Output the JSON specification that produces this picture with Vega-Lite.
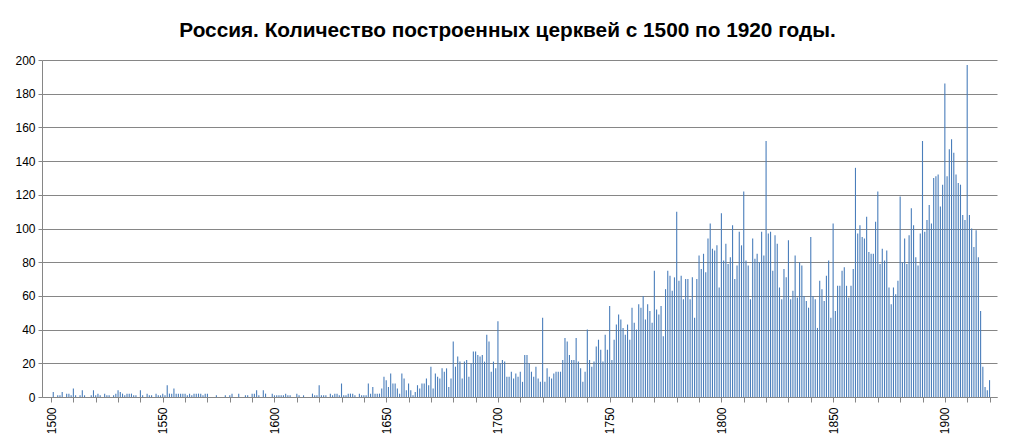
{
  "$schema": "https://vega.github.io/schema/vega-lite/v6.json",
  "width": 955,
  "height": 337,
  "autosize": {"type": "none"},
  "padding": {"left": 42, "top": 60, "right": 17, "bottom": 49},
  "background": "white",
  "title": {"text": "Россия. Количество построенных церквей с 1500 по 1920 годы.", "font": "Liberation Sans", "fontSize": 20.8, "fontWeight": "bold", "color": "#000000", "anchor": "middle", "offset": 12, "dx": -12},
  "data": {"values": [
{"year":1500,"n":0},{"year":1501,"n":3},{"year":1502,"n":0},{"year":1503,"n":1},{"year":1504,"n":1},{"year":1505,"n":3},{"year":1506,"n":0},{"year":1507,"n":2},{"year":1508,"n":2},{"year":1509,"n":1},
{"year":1510,"n":5},{"year":1511,"n":1},{"year":1512,"n":0},{"year":1513,"n":1},{"year":1514,"n":4},{"year":1515,"n":1},{"year":1516,"n":0},{"year":1517,"n":0},{"year":1518,"n":1},{"year":1519,"n":4},
{"year":1520,"n":1},{"year":1521,"n":2},{"year":1522,"n":1},{"year":1523,"n":0},{"year":1524,"n":2},{"year":1525,"n":1},{"year":1526,"n":1},{"year":1527,"n":0},{"year":1528,"n":1},{"year":1529,"n":2},
{"year":1530,"n":4},{"year":1531,"n":3},{"year":1532,"n":2},{"year":1533,"n":1},{"year":1534,"n":2},{"year":1535,"n":2},{"year":1536,"n":2},{"year":1537,"n":1},{"year":1538,"n":1},{"year":1539,"n":0},
{"year":1540,"n":4},{"year":1541,"n":1},{"year":1542,"n":0},{"year":1543,"n":2},{"year":1544,"n":1},{"year":1545,"n":1},{"year":1546,"n":0},{"year":1547,"n":2},{"year":1548,"n":1},{"year":1549,"n":1},
{"year":1550,"n":2},{"year":1551,"n":1},{"year":1552,"n":7},{"year":1553,"n":2},{"year":1554,"n":2},{"year":1555,"n":5},{"year":1556,"n":2},{"year":1557,"n":2},{"year":1558,"n":2},{"year":1559,"n":2},
{"year":1560,"n":2},{"year":1561,"n":1},{"year":1562,"n":2},{"year":1563,"n":1},{"year":1564,"n":2},{"year":1565,"n":2},{"year":1566,"n":2},{"year":1567,"n":2},{"year":1568,"n":1},{"year":1569,"n":2},
{"year":1570,"n":2},{"year":1571,"n":0},{"year":1572,"n":0},{"year":1573,"n":0},{"year":1574,"n":1},{"year":1575,"n":0},{"year":1576,"n":0},{"year":1577,"n":0},{"year":1578,"n":1},{"year":1579,"n":0},
{"year":1580,"n":1},{"year":1581,"n":2},{"year":1582,"n":0},{"year":1583,"n":0},{"year":1584,"n":2},{"year":1585,"n":0},{"year":1586,"n":0},{"year":1587,"n":1},{"year":1588,"n":1},{"year":1589,"n":0},
{"year":1590,"n":2},{"year":1591,"n":2},{"year":1592,"n":4},{"year":1593,"n":1},{"year":1594,"n":0},{"year":1595,"n":4},{"year":1596,"n":2},{"year":1597,"n":0},{"year":1598,"n":0},{"year":1599,"n":2},
{"year":1600,"n":1},{"year":1601,"n":1},{"year":1602,"n":1},{"year":1603,"n":1},{"year":1604,"n":1},{"year":1605,"n":2},{"year":1606,"n":1},{"year":1607,"n":1},{"year":1608,"n":0},{"year":1609,"n":0},
{"year":1610,"n":2},{"year":1611,"n":1},{"year":1612,"n":0},{"year":1613,"n":1},{"year":1614,"n":0},{"year":1615,"n":0},{"year":1616,"n":0},{"year":1617,"n":2},{"year":1618,"n":1},{"year":1619,"n":1},
{"year":1620,"n":7},{"year":1621,"n":1},{"year":1622,"n":1},{"year":1623,"n":1},{"year":1624,"n":0},{"year":1625,"n":2},{"year":1626,"n":1},{"year":1627,"n":2},{"year":1628,"n":2},{"year":1629,"n":1},
{"year":1630,"n":8},{"year":1631,"n":1},{"year":1632,"n":1},{"year":1633,"n":2},{"year":1634,"n":2},{"year":1635,"n":2},{"year":1636,"n":1},{"year":1637,"n":0},{"year":1638,"n":2},{"year":1639,"n":1},
{"year":1640,"n":1},{"year":1641,"n":1},{"year":1642,"n":8},{"year":1643,"n":2},{"year":1644,"n":6},{"year":1645,"n":2},{"year":1646,"n":2},{"year":1647,"n":2},{"year":1648,"n":5},{"year":1649,"n":12},
{"year":1650,"n":10},{"year":1651,"n":6},{"year":1652,"n":14},{"year":1653,"n":8},{"year":1654,"n":8},{"year":1655,"n":5},{"year":1656,"n":2},{"year":1657,"n":14},{"year":1658,"n":11},{"year":1659,"n":4},
{"year":1660,"n":8},{"year":1661,"n":4},{"year":1662,"n":1},{"year":1663,"n":3},{"year":1664,"n":7},{"year":1665,"n":5},{"year":1666,"n":8},{"year":1667,"n":8},{"year":1668,"n":11},{"year":1669,"n":7},
{"year":1670,"n":18},{"year":1671,"n":5},{"year":1672,"n":14},{"year":1673,"n":12},{"year":1674,"n":11},{"year":1675,"n":17},{"year":1676,"n":15},{"year":1677,"n":17},{"year":1678,"n":6},{"year":1679,"n":11},
{"year":1680,"n":33},{"year":1681,"n":18},{"year":1682,"n":24},{"year":1683,"n":21},{"year":1684,"n":11},{"year":1685,"n":21},{"year":1686,"n":22},{"year":1687,"n":12},{"year":1688,"n":20},{"year":1689,"n":27},
{"year":1690,"n":27},{"year":1691,"n":25},{"year":1692,"n":24},{"year":1693,"n":25},{"year":1694,"n":21},{"year":1695,"n":37},{"year":1696,"n":33},{"year":1697,"n":15},{"year":1698,"n":21},{"year":1699,"n":17},
{"year":1700,"n":45},{"year":1701,"n":20},{"year":1702,"n":22},{"year":1703,"n":21},{"year":1704,"n":12},{"year":1705,"n":12},{"year":1706,"n":15},{"year":1707,"n":11},{"year":1708,"n":14},{"year":1709,"n":12},
{"year":1710,"n":15},{"year":1711,"n":9},{"year":1712,"n":25},{"year":1713,"n":25},{"year":1714,"n":20},{"year":1715,"n":15},{"year":1716,"n":12},{"year":1717,"n":18},{"year":1718,"n":11},{"year":1719,"n":9},
{"year":1720,"n":47},{"year":1721,"n":9},{"year":1722,"n":17},{"year":1723,"n":12},{"year":1724,"n":11},{"year":1725,"n":14},{"year":1726,"n":15},{"year":1727,"n":15},{"year":1728,"n":15},{"year":1729,"n":22},
{"year":1730,"n":35},{"year":1731,"n":33},{"year":1732,"n":25},{"year":1733,"n":22},{"year":1734,"n":22},{"year":1735,"n":35},{"year":1736,"n":21},{"year":1737,"n":17},{"year":1738,"n":9},{"year":1739,"n":15},
{"year":1740,"n":40},{"year":1741,"n":22},{"year":1742,"n":18},{"year":1743,"n":21},{"year":1744,"n":30},{"year":1745,"n":34},{"year":1746,"n":28},{"year":1747,"n":21},{"year":1748,"n":37},{"year":1749,"n":28},
{"year":1750,"n":54},{"year":1751,"n":22},{"year":1752,"n":34},{"year":1753,"n":43},{"year":1754,"n":49},{"year":1755,"n":46},{"year":1756,"n":41},{"year":1757,"n":37},{"year":1758,"n":43},{"year":1759,"n":34},
{"year":1760,"n":53},{"year":1761,"n":44},{"year":1762,"n":40},{"year":1763,"n":55},{"year":1764,"n":53},{"year":1765,"n":60},{"year":1766,"n":46},{"year":1767,"n":55},{"year":1768,"n":51},{"year":1769,"n":44},
{"year":1770,"n":75},{"year":1771,"n":52},{"year":1772,"n":49},{"year":1773,"n":54},{"year":1774,"n":36},{"year":1775,"n":64},{"year":1776,"n":75},{"year":1777,"n":72},{"year":1778,"n":63},{"year":1779,"n":71},
{"year":1780,"n":110},{"year":1781,"n":69},{"year":1782,"n":72},{"year":1783,"n":58},{"year":1784,"n":70},{"year":1785,"n":70},{"year":1786,"n":58},{"year":1787,"n":71},{"year":1788,"n":47},{"year":1789,"n":70},
{"year":1790,"n":84},{"year":1791,"n":76},{"year":1792,"n":85},{"year":1793,"n":74},{"year":1794,"n":94},{"year":1795,"n":103},{"year":1796,"n":88},{"year":1797,"n":87},{"year":1798,"n":90},{"year":1799,"n":65},
{"year":1800,"n":109},{"year":1801,"n":81},{"year":1802,"n":91},{"year":1803,"n":79},{"year":1804,"n":83},{"year":1805,"n":102},{"year":1806,"n":70},{"year":1807,"n":78},{"year":1808,"n":98},{"year":1809,"n":90},
{"year":1810,"n":122},{"year":1811,"n":81},{"year":1812,"n":78},{"year":1813,"n":58},{"year":1814,"n":94},{"year":1815,"n":82},{"year":1816,"n":85},{"year":1817,"n":80},{"year":1818,"n":98},{"year":1819,"n":84},
{"year":1820,"n":152},{"year":1821,"n":97},{"year":1822,"n":98},{"year":1823,"n":75},{"year":1824,"n":96},{"year":1825,"n":91},{"year":1826,"n":65},{"year":1827,"n":58},{"year":1828,"n":76},{"year":1829,"n":71},
{"year":1830,"n":93},{"year":1831,"n":58},{"year":1832,"n":63},{"year":1833,"n":84},{"year":1834,"n":59},{"year":1835,"n":80},{"year":1836,"n":78},{"year":1837,"n":60},{"year":1838,"n":57},{"year":1839,"n":53},
{"year":1840,"n":95},{"year":1841,"n":60},{"year":1842,"n":58},{"year":1843,"n":41},{"year":1844,"n":69},{"year":1845,"n":64},{"year":1846,"n":57},{"year":1847,"n":72},{"year":1848,"n":81},{"year":1849,"n":47},
{"year":1850,"n":103},{"year":1851,"n":51},{"year":1852,"n":66},{"year":1853,"n":66},{"year":1854,"n":75},{"year":1855,"n":77},{"year":1856,"n":66},{"year":1857,"n":59},{"year":1858,"n":66},{"year":1859,"n":76},
{"year":1860,"n":136},{"year":1861,"n":97},{"year":1862,"n":102},{"year":1863,"n":95},{"year":1864,"n":94},{"year":1865,"n":107},{"year":1866,"n":86},{"year":1867,"n":85},{"year":1868,"n":85},{"year":1869,"n":104},
{"year":1870,"n":122},{"year":1871,"n":79},{"year":1872,"n":88},{"year":1873,"n":81},{"year":1874,"n":87},{"year":1875,"n":65},{"year":1876,"n":55},{"year":1877,"n":65},{"year":1878,"n":61},{"year":1879,"n":69},
{"year":1880,"n":119},{"year":1881,"n":80},{"year":1882,"n":94},{"year":1883,"n":79},{"year":1884,"n":96},{"year":1885,"n":112},{"year":1886,"n":102},{"year":1887,"n":83},{"year":1888,"n":78},{"year":1889,"n":97},
{"year":1890,"n":152},{"year":1891,"n":98},{"year":1892,"n":105},{"year":1893,"n":114},{"year":1894,"n":103},{"year":1895,"n":130},{"year":1896,"n":131},{"year":1897,"n":132},{"year":1898,"n":113},{"year":1899,"n":126},
{"year":1900,"n":186},{"year":1901,"n":131},{"year":1902,"n":147},{"year":1903,"n":153},{"year":1904,"n":145},{"year":1905,"n":132},{"year":1906,"n":127},{"year":1907,"n":126},{"year":1908,"n":108},{"year":1909,"n":105},
{"year":1910,"n":197},{"year":1911,"n":108},{"year":1912,"n":100},{"year":1913,"n":89},{"year":1914,"n":99},{"year":1915,"n":83},{"year":1916,"n":51},{"year":1917,"n":18},{"year":1918,"n":6},{"year":1919,"n":4},
{"year":1920,"n":10}
  ]},
  "mark": {"type": "bar", "width": 1.1, "color": "#4A7EBB"},
  "encoding": {
    "x": {
      "field": "year", "type": "quantitative",
      "scale": {"domain": [1498.2, 1921.1], "nice": false, "zero": false},
      "axis": {
        "title": null,
        "values": [1500,1510,1520,1530,1540,1550,1560,1570,1580,1590,1600,1610,1620,1630,1640,1650,1660,1670,1680,1690,1700,1710,1720,1730,1740,1750,1760,1770,1780,1790,1800,1810,1820,1830,1840,1850,1860,1870,1880,1890,1900,1910,1920],
        "labelExpr": "datum.value % 50 === 0 ? datum.value : ''",
        "labelAngle": -90,
        "labelOverlap": false,
        "labelFlush": false,
        "labelBound": false,
        "labelFont": "Liberation Sans",
        "labelFontSize": 12,
        "labelColor": "#000000",
        "labelPadding": 5,
        "tickSize": 5,
        "tickColor": "#868686",
        "domainColor": "#868686",
        "grid": false
      }
    },
    "y": {
      "field": "n", "type": "quantitative",
      "scale": {"domain": [0, 200], "nice": false},
      "axis": {
        "title": null,
        "values": [0,20,40,60,80,100,120,140,160,180,200],
        "labelFont": "Liberation Sans",
        "labelFontSize": 12,
        "labelColor": "#000000",
        "labelPadding": 3,
        "tickSize": 4,
        "tickColor": "#868686",
        "domainColor": "#868686",
        "grid": true,
        "gridColor": "#868686",
        "gridWidth": 1
      }
    }
  },
  "config": {"view": {"stroke": null}}
}
